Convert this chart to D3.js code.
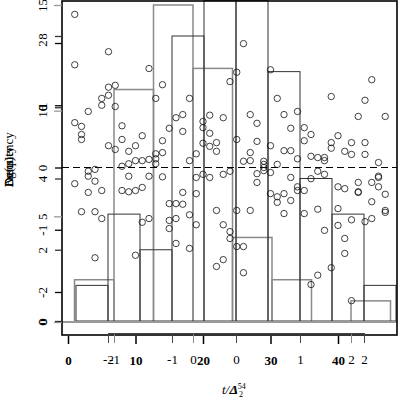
<!DOCTYPE html>
<html>
<head>
<meta charset="utf-8">
<script src="https://cdn.jsdelivr.net/npm/d3@7"></script>
<style>
  body { margin: 0; background: #fff; }
  svg text { font-family: "Liberation Serif", "DejaVu Serif", serif; }
</style>
</head>
<body>
<div id="chart"></div>
<script>
// histogram A (thin dark bars)
let edgesA = [-2.5, -2, -1.5, -1, -0.5, 0, 0.5, 1, 1.5, 2, 2.5]
let countsA = [1, 3, 2, 8, 9, 9, 7, 4, 3, 1]
// histogram B (gray bars)
let edgesB = [-1.5, -1, -0.5, 0, 0.5, 1, 1.5, 2, 2.5]
let countsB = [2, 11, 15, 12, 4, 2, 0, 1]

// scatter: one list of values per index (index = position + 1)
let scatterY = [
  [2.46, 1.65, 0.72, -0.26], [0.66, 0.53, 0.45, -0.71], [0.90, -0.06, -0.14, -0.40],
  [-0.03, -0.22, -0.71, -1.45], [1.11, 1.00, -0.37, -0.82], [1.86, 1.29, 1.16, 0.35],
  [1.32, 0.98, 0.29], [0.67, 0.45, 0.02, -0.37], [0.26, 0.06, -0.14, -0.39],
  [0.35, 0.11, -0.37, -1.41], [0.51, 0.11, -0.32, -0.88], [1.59, 0.13, -0.14, -0.82],
  [1.11, 0.22, 0.14, 0.06], [1.33, 0.43, 0.24, -0.15], [0.63, -0.58, -0.85, -0.98],
  [0.80, -0.58, -0.82, -1.22], [0.85, 0.58, -0.40, -0.59], [1.11, 0.11, -0.76, -1.30],
  [0.22, -0.16, -0.42, -0.92], [0.74, 0.64, 0.39, -0.11], [0.84, 0.55, 0.34, -0.16],
  [0.40, 0.26, -0.69, -1.59], [0.80, -0.11, -0.92, -1.48], [1.38, -0.06, -1.03, -1.14],
  [1.53, 0.45, -0.69, -1.27], [1.99, 0.10, -1.27, -1.69], [0.85, 0.24, 0.11, -0.69],
  [0.71, 0.42, -0.10, -0.24], [0.10, 0.05, 0.00, -0.05], [1.57, 0.35, -0.08, -0.42],
  [1.11, 0.05, -0.47, -0.56], [0.85, 0.27, -0.42, -0.74], [0.63, 0.27, -0.16, -0.53],
  [0.90, 0.14, -0.31, -0.37], [0.64, 0.43, -0.37, -0.74], [0.53, 0.18, -0.18, -1.88],
  [0.16, -0.06, -0.67, -1.73], [0.16, 0.11, -0.11, -1.01], [1.14, 0.40, 0.31, -1.61],
  [0.51, -0.31, -0.66, -0.93], [0.26, -0.34, -1.14, -1.38], [0.40, 0.21, -0.84, -2.14],
  [0.82, -0.24, -0.39, -0.40], [1.08, 0.40, 0.21, -0.87], [1.41, -0.24, -0.55, -0.82],
  [0.08, -0.14, -0.16, -0.31], [0.82, -0.43, -0.69, -0.72]
]

let ticksIdx = [0, 10, 20, 30, 40]
let ticksA = [-2, -1, 0, 1, 2]
let ticksB = [-1, 0, 2]
let ticksCntA = [0, 2, 4, 6, 8]
let ticksCntB = [0, 5, 10, 15]
let ticksScat = [-2, -1, 0, 1, 2]

let W = 399, H = 400
let box = {left: 62, top: 1, right: 397, bottom: 335}
// plain hyphen minus, like the reference
let fmt = d => String(d)

let svg = d3.select("#chart").append("svg")
    .attr("width", W).attr("height", H)

// scales
let xIdx = d3.scaleLinear().domain([0, 40]).range([68, 338])
let xA = d3.scaleLinear().domain([-2, 2]).range([108, 364])
let xB = d3.scaleLinear().domain([-1, 2]).range([114, 351])
let yA = d3.scaleLinear().domain([0, 8]).range([321, 36])
let yB = d3.scaleLinear().domain([0, 15]).range([322, 5])
let yS = d3.scaleLinear().domain([-2, 2]).range([292, 43])

// histogram B (gray)
svg.append("g").selectAll("rect")
    .data(countsB)
    .enter().append("rect")
    .attr("x", (d, i) => xB(edgesB[i]))
    .attr("width", (d, i) => xB(edgesB[i + 1]) - xB(edgesB[i]))
    .attr("y", d => yB(d))
    .attr("height", d => yB(0) - yB(d))
    .attr("fill", "none").attr("stroke", "#8a8a8a").attr("stroke-width", 1.5)

// histogram A (dark)
svg.append("g").selectAll("rect")
    .data(countsA)
    .enter().append("rect")
    .attr("x", (d, i) => xA(edgesA[i]))
    .attr("width", (d, i) => xA(edgesA[i + 1]) - xA(edgesA[i]))
    .attr("y", d => yA(d))
    .attr("height", d => yA(0) - yA(d))
    .attr("fill", "none").attr("stroke", "#333").attr("stroke-width", 1)

// baseline
svg.append("line")
    .attr("x1", box.left).attr("x2", box.right)
    .attr("y1", yB(0)).attr("y2", yB(0))
    .attr("stroke", "#999").attr("stroke-width", 2)

// zero reference
svg.append("line")
    .attr("x1", box.left).attr("x2", box.right)
    .attr("y1", yS(0)).attr("y2", yS(0))
    .attr("stroke", "#000").attr("stroke-width", 1.2)
    .attr("stroke-dasharray", "7,4")

// scatter points
let pts = []
scatterY.forEach((col, i) => col.forEach(v => pts.push({x: i + 1, y: v})))
svg.append("g").selectAll("circle")
    .data(pts)
    .enter().append("circle")
    .attr("cx", d => xIdx(d.x))
    .attr("cy", d => yS(d.y))
    .attr("r", 3.2)
    .attr("fill", "none").attr("stroke", "#111").attr("stroke-width", 0.8)

// frame
svg.append("rect")
    .attr("x", box.left).attr("y", box.top)
    .attr("width", box.right - box.left).attr("height", box.bottom - box.top)
    .attr("fill", "none").attr("stroke", "#000").attr("stroke-width", 1.6)

// bottom axes
function styleAxis(g, col, bold) {
    g.select(".domain").attr("stroke", col)
    g.selectAll(".tick line").attr("stroke", col)
    g.selectAll(".tick text").attr("fill", "#000")
        .style("font-size", "13px")
        .style("font-weight", bold ? "bold" : "normal")
}

svg.append("g")
    .attr("transform", "translate(0," + 333 + ")")
    .call(d3.axisBottom(xB).tickValues(ticksB).tickFormat(fmt)
        .tickSize(10).tickSizeOuter(0).tickPadding(12))
    .call(g => styleAxis(g, "#888", false))

svg.append("g")
    .attr("transform", "translate(0," + 333 + ")")
    .call(d3.axisBottom(xA).tickValues(ticksA).tickFormat(fmt)
        .tickSize(10).tickSizeOuter(0).tickPadding(12))
    .call(g => styleAxis(g, "#444", false))

svg.append("g")
    .attr("transform", "translate(0," + 336 + ")")
    .call(d3.axisBottom(xIdx).tickValues(ticksIdx).tickFormat(fmt)
        .tickSize(8).tickSizeOuter(0).tickPadding(12))
    .call(g => g.select(".domain").remove())
    .call(g => styleAxis(g, "#000", true))
    .call(g => g.selectAll(".tick line").attr("stroke-width", 1.5))

// left axes, labels turned like the reference
function leftAxis(scale, vals, col, size) {
    let g = svg.append("g")
        .attr("transform", "translate(" + box.left + ",0)")
        .call(d3.axisLeft(scale).tickValues(vals).tickFormat(fmt).tickSize(size))
    g.select(".domain").remove()
    g.selectAll(".tick line").attr("stroke", col).attr("stroke-width", 1.3)
    g.selectAll(".tick text")
        .attr("transform", "rotate(-90)")
        .attr("x", 0).attr("y", -15).attr("dy", 0)
        .attr("text-anchor", "middle")
        .attr("fill", "#000")
        .style("font-size", "13px")
    return g
}
leftAxis(yB, ticksCntB, "#999", 8)
leftAxis(yA, ticksCntA, "#333", 7)
leftAxis(yS, ticksScat, "#000", 7)

// axis titles (overlapping)
;["Frequency", "Density", "Δg(u)"].forEach(t => {
    svg.append("text")
        .attr("transform", "translate(13,187) rotate(-90)")
        .attr("text-anchor", "start")
        .style("font-size", "13px")
        .text(t)
})

svg.append("text")
    .attr("x", 222).attr("y", 394)
    .style("font-size", "13px").style("font-style", "italic")
    .text("t/Δ")
let xl = svg.append("text")
    .attr("x", 230).attr("y", 394)
    .style("font-size", "13px").style("font-style", "italic")
xl.append("tspan").text("Δ")
xl.append("tspan").attr("dy", -5).style("font-size", "8px").style("font-style", "normal").text("54")
xl.append("tspan").attr("x", 239).attr("dy", 8).style("font-size", "8px").style("font-style", "normal").text("2")
</script>
</body>
</html>
